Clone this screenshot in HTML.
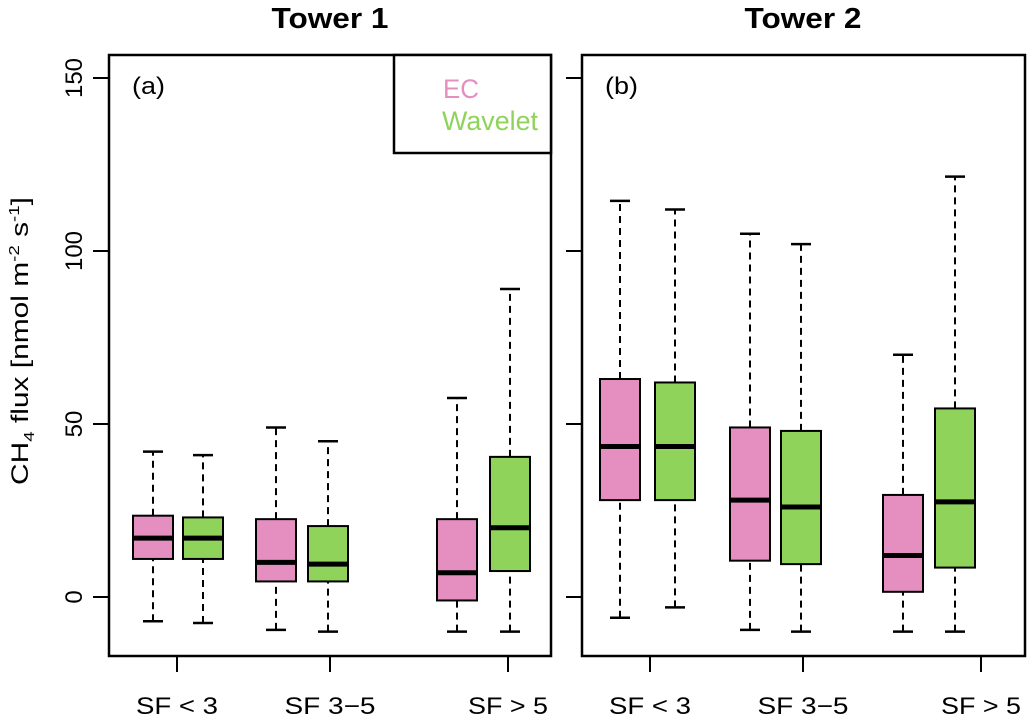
<!DOCTYPE html>
<html><head><meta charset="utf-8"><style>
body{margin:0;background:#fff;}
svg{display:block;font-family:"Liberation Sans",sans-serif;}
</style></head><body>
<svg id="chart" width="1030" height="718" viewBox="0 0 1030 718">
<text x="330" y="28" font-size="29" font-weight="bold" text-anchor="middle" textLength="117" lengthAdjust="spacingAndGlyphs">Tower 1</text>
<text x="803" y="28" font-size="29" font-weight="bold" text-anchor="middle" textLength="117" lengthAdjust="spacingAndGlyphs">Tower 2</text>
<text transform="translate(28,341) rotate(-90)" font-size="24" text-anchor="middle" textLength="288" lengthAdjust="spacingAndGlyphs">CH<tspan font-size="15" dy="6">4</tspan><tspan dy="-6"> flux [nmol m</tspan><tspan font-size="15" dy="-9">-2</tspan><tspan dy="9"> s</tspan><tspan font-size="15" dy="-9">-1</tspan><tspan dy="9">]</tspan></text>
<g id="marks"></g>
</svg>
<script>
const categories=["SF < 3","SF 3\u22125","SF > 5"];
const series=["EC","Wavelet"];
// [lowWhisker, q1, median, q3, highWhisker]
const t1EC=[[-7,11,17,23.5,42],[-9.5,4.5,10,22.5,49],[-10,-1,7,22.5,57.5]];
const t1WL=[[-7.5,11,17,23,41],[-10,4.5,9.5,20.5,45],[-10,7.5,20,40.5,89]];
const t2EC=[[-6,28,43.5,63,114.5],[-9.5,10.5,28,49,105],[-10,1.5,12,29.5,70]];
const t2WL=[[-3,28,43.5,62,112],[-10,9.5,26,48,102],[-10,8.5,27.5,54.5,121.5]];
const yTicks=[0,50,100,150];

const NS="http://www.w3.org/2000/svg";
const g=document.getElementById('marks');
const y=v=>597-(v*3.46);
const colors={EC:"#e48fc0",Wavelet:"#8fd35a"};
const labW=[82,91,80];
function el(tag,attrs,parent){const e=document.createElementNS(NS,tag);for(const k in attrs)e.setAttribute(k,attrs[k]);(parent||g).appendChild(e);return e;}
const panels=[
 {left:109,right:551,ticks:[177,330,508],box:[[153,203],[276,328],[457,510]],ec:t1EC,wl:t1WL,lab:"(a)",name:"tower-1"},
 {left:582,right:1025,ticks:[650,803,981],box:[[620,675],[750,801],[903,955]],ec:t2EC,wl:t2WL,lab:"(b)",name:"tower-2"}
];
panels.forEach(p=>{
 const pg=el('g',{});
 
 
 const fr=el('rect',{x:p.left,y:55,width:p.right-p.left,height:601,fill:'none',stroke:'#000','stroke-width':2.5},pg);
 
 
 yTicks.forEach(v=>{
  const tk=el('line',{x1:p.left-16,x2:p.left,y1:y(v),y2:y(v),stroke:'#000','stroke-width':2},pg);
  
  
  if(p.name==='tower-1'){
   const t=el('text',{transform:`translate(82,${y(v)}) rotate(-90)`,'font-size':24,'text-anchor':'middle'},pg);
   t.textContent=v;
   
   
  }
 });
 const lt=el('text',{x:p.left+23,y:94,'font-size':24,textLength:33,lengthAdjust:'spacingAndGlyphs'},pg);
 lt.textContent=p.lab;
 
 
 categories.forEach((c,i)=>{
  const tx=p.ticks[i];
  const xt=el('line',{x1:tx,x2:tx,y1:656,y2:672,stroke:'#000','stroke-width':2},pg);
  
  
  const tl=el('text',{x:tx,y:714,'font-size':24,'text-anchor':'middle',textLength:labW[i],lengthAdjust:'spacingAndGlyphs'},pg);
  tl.textContent=c;
  
  
  [[p.ec[i],'EC',p.box[i][0]],[p.wl[i],'Wavelet',p.box[i][1]]].forEach(([d,s,cx])=>{
   const bg=el('g',{},pg);
   
   
   const w=40;
   el('line',{x1:cx,x2:cx,y1:y(d[0]),y2:y(d[1]),stroke:'#000','stroke-width':2,'stroke-dasharray':'7,5'},bg);
   el('line',{x1:cx,x2:cx,y1:y(d[3]),y2:y(d[4]),stroke:'#000','stroke-width':2,'stroke-dasharray':'7,5'},bg);
   el('line',{x1:cx-10,x2:cx+10,y1:y(d[0]),y2:y(d[0]),stroke:'#000','stroke-width':2.5},bg);
   el('line',{x1:cx-10,x2:cx+10,y1:y(d[4]),y2:y(d[4]),stroke:'#000','stroke-width':2.5},bg);
   el('rect',{x:cx-w/2,y:y(d[3]),width:w,height:y(d[1])-y(d[3]),fill:colors[s],stroke:'#000','stroke-width':2},bg);
   el('line',{x1:cx-w/2,x2:cx+w/2,y1:y(d[2]),y2:y(d[2]),stroke:'#000','stroke-width':5},bg);
  });
 });
});
const lg=el('g',{});


el('rect',{x:394,y:55,width:157,height:98,fill:'#fff',stroke:'#000','stroke-width':2.5},lg);
const l1=el('text',{x:443,y:98,'font-size':27,fill:colors.EC,textLength:36,lengthAdjust:'spacingAndGlyphs'},lg);l1.textContent="EC";


const l2=el('text',{x:442,y:130,'font-size':27,fill:colors.Wavelet,textLength:96,lengthAdjust:'spacingAndGlyphs'},lg);l2.textContent="Wavelet";


</script>
</body></html>
